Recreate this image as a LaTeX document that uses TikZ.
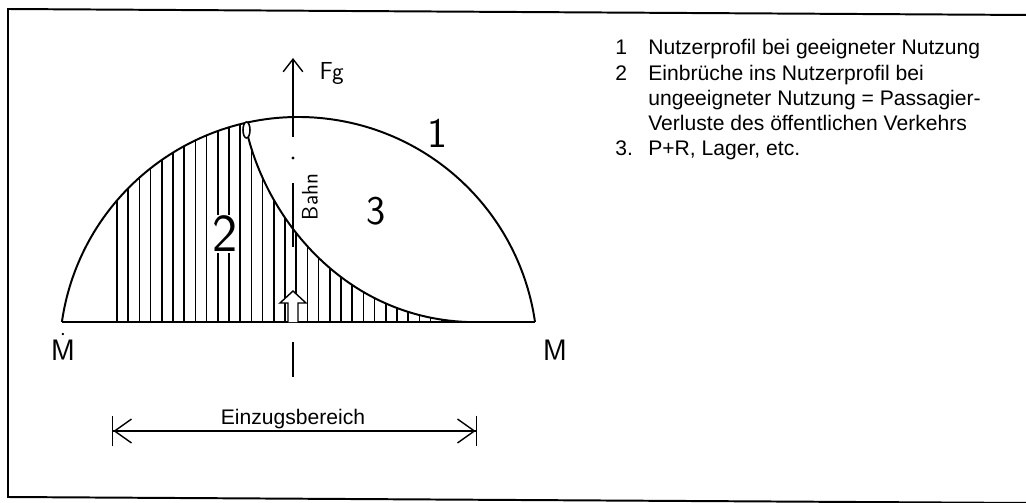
\documentclass[tikz,border=0pt]{standalone}
\usepackage{fontspec}
\setmainfont{Liberation Sans}
\usetikzlibrary{positioning,arrows.meta}
\newcommand\handsize[1]{\sffamily\fontsize{#1}{#1}\selectfont}

\begin{document}
\begin{tikzpicture}[
    x=0.025cm, y=0.025cm,
    >=Latex,
    frame/.style={line width=1.4pt},
    profile/.style={line width=1.4pt},
    baseline/.style={line width=2pt},
    hatch/.style={line width=1.1pt},
    axis/.style={line width=1pt},
    hand/.style={inner sep=1pt},
    legend/.style={
        font=\fontsize{15}{17.8}\selectfont,
        inner sep=0pt
    },
    dim/.style={
        line width=1pt,
        {Bar[width=22pt]Straight Barb[length=12pt,width=17pt]}-{Straight Barb[length=12pt,width=17pt]Bar[width=22pt]}
    }
]

\useasboundingbox (0,0) rectangle (1026,502);

% FRAME
\draw[frame] (1030,487) -- (8,493) -- (8,5) -- (1030,-1);

% PROFILE
\coordinate (mlinks)  at (61.9,180);
\coordinate (mrechts) at (535.1,180);
\coordinate (knick)   at (245,378.9);
\coordinate (auslauf) at (467,180);

% hatched area 2
\begin{scope}
\clip (mlinks) arc[start angle=171.82, end angle=102.94, radius=239]
      .. controls (262,290) and (340,185) .. (auslauf) -- cycle;
\foreach \i in {0,...,31}
    \draw[hatch] ({117+11.2*\i},180) -- ++(0,250);
\end{scope}

\draw[profile] (mlinks) arc[start angle=171.82, end angle=8.18, radius=239];
\draw[baseline] (mlinks) -- (mrechts);
\draw[profile] (knick) .. controls (262,290) and (340,185) .. (auslauf);
\draw[hatch, fill=white] (246.5,372) ellipse[x radius=3.5, y radius=8];

% AXIS
\coordinate (achse1) at (293,365);
\coordinate (achse2) at (293,444);
\coordinate (achse3) at (293,319);
\coordinate (achse4) at (293,255);
\coordinate (achse5) at (293,160);
\coordinate (achse6) at (293,125);

\draw[axis, -{Straight Barb[length=9pt,width=14pt]}] (achse1) -- (achse2);
\fill (293,344) circle[radius=1.6];
\draw[axis] (achse3) -- (achse4);
\draw[axis, fill=white] (288,180) -- (288,199) -- (280,199) -- (293,211)
    -- (306,199) -- (298,199) -- (298,180);
\draw[axis] (achse5) -- (achse6);

% LABELS
\node[hand, font=\handsize{30}] (eins) at (437,369) {1};
\node[hand, fill=white, font=\handsize{38}] (zwei) at (225,268) {2};
\node[hand, font=\handsize{29}] (drei) at (376,291) {3};
\node[hand, font=\handsize{21}, anchor=base] (ml) at (63,142) {$\dot{\mbox{M}}$};
\node[hand, font=\handsize{21}, anchor=base] (mr) at (555,142) {M};
\node[hand, font=\handsize{17.5}, anchor=base west] (fg) at (318,422) {Fg};
\node[hand, font=\handsize{16}, rotate=90] (bahn) at (310,305) {Bahn};

% EINZUGSBEREICH
\coordinate (ezlinks)  at (112,71);
\coordinate (ezrechts) at (477,71);
\draw[dim] (ezlinks) -- (ezrechts);
\node[legend, anchor=base] (ezb) at (293,78) {Einzugsbereich};

% LEGEND
\node[legend, anchor=base west] (legende) at (615,447)
{\begin{tabular}[t]{@{}p{23.5pt}@{}l@{}}
1  & Nutzerprofil bei geeigneter Nutzung\\
2  & Einbrüche ins Nutzerprofil bei\\
   & ungeeigneter Nutzung = Passagier-\\
   & Verluste des öffentlichen Verkehrs\\
3. & P+R, Lager, etc.
\end{tabular}};

\end{tikzpicture}
\end{document}
